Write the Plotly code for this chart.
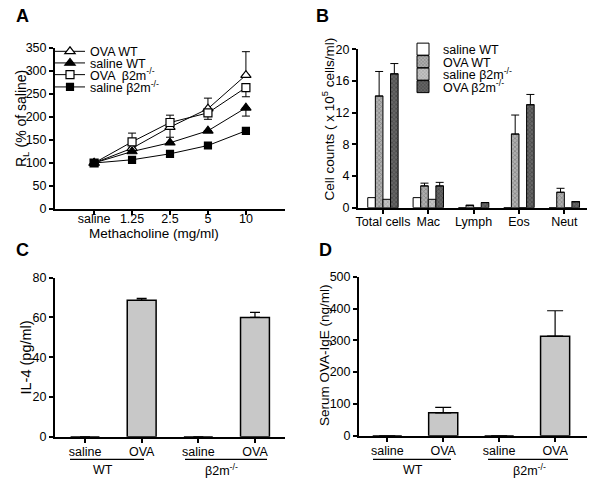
import plotly.graph_objects as go

W, H = 600, 478

# ---------------- Data ----------------
# Panel A: lung resistance vs methacholine dose
doses = ["saline", "1.25", "2.5", "5", "10"]
ova_wt = [100, 132, 178, 218, 291]
ova_wt_err_up = [0, 0, 0, 23, 51]
ova_wt_err_dn = [0, 0, 22, 0, 0]
sal_wt = [100, 125, 144, 170, 220]
sal_wt_err_up = [0, 0, 0, 0, 0]
sal_wt_err_dn = [0, 0, 0, 0, 18]
ova_b2m = [100, 146, 188, 209, 264]
ova_b2m_err_up = [0, 19, 16, 0, 0]
ova_b2m_err_dn = [0, 0, 0, 14, 20]
sal_b2m = [100, 107, 120, 138, 170]

# Panel B: BAL cell counts
cell_types = ["Total cells", "Mac", "Lymph", "Eos", "Neut"]
b_sal_wt = [1.27, 1.27, 0, 0, 0]
b_ova_wt = [14.1, 2.75, 0.3, 9.3, 1.95]
b_ova_wt_err = [3.1, 0.35, 0, 2.4, 0.5]
b_sal_b2m = [1.06, 1.06, 0, 0, 0]
b_ova_b2m = [16.9, 2.75, 0.65, 13.0, 0.76]
b_ova_b2m_err = [1.3, 0.45, 0, 1.3, 0]

# Panel C: IL-4
treat_labels = ["saline", "OVA", "saline", "OVA"]
il4 = [0, 68.7, 0, 60.0]
il4_err = [0, 0.9, 0, 2.6]

# Panel D: serum OVA-IgE
ige = [0, 72, 0, 313]
ige_err = [0, 17, 0, 80]

B2M = "β2m<sup>-/-</sup>"
FONT = "Arial, Liberation Sans, Helvetica, sans-serif"


def px(x):
    return x / W


def py(y):
    return 1 - y / H


fig = go.Figure()

# ---------------- Panel A ----------------
def a_err(up, dn):
    return dict(type="data", symmetric=False, array=up, arrayminus=dn,
                color="black", thickness=1, width=4)

a_series = [
    ("OVA WT", ova_wt, "triangle-up", "white", ova_wt_err_up, ova_wt_err_dn, 9),
    ("saline WT", sal_wt, "triangle-up", "black", sal_wt_err_up, sal_wt_err_dn, 9),
    ("OVA  " + B2M, ova_b2m, "square", "white", ova_b2m_err_up, ova_b2m_err_dn, 8),
    ("saline " + B2M, sal_b2m, "square", "black", [0] * 5, [0] * 5, 7),
]
for i, (name, vals, sym, fill, up, dn, sz) in enumerate(a_series):
    fig.add_trace(go.Scatter(
        x=doses, y=vals, name=name, mode="lines+markers",
        line=dict(color="black", width=1),
        marker=dict(symbol=sym, size=sz, color=fill, line=dict(color="black", width=1.2)),
        error_y=a_err(up, dn),
        xaxis="x", yaxis="y",
        legend="legend" if i == 0 else f"legend{i + 1}",
    ))

# ---------------- Panel B ----------------
b_series = [
    ("saline WT", b_sal_wt, None, dict(color="white")),
    ("OVA WT", b_ova_wt, b_ova_wt_err,
     dict(color="#9a9a9a", pattern=dict(shape="x", bgcolor="#b0b0b0", fgcolor="#555555", size=3, solidity=0.4))),
    ("saline " + B2M, b_sal_b2m, None,
     dict(color="#b5b5b5", pattern=dict(shape="x", bgcolor="#c4c4c4", fgcolor="#7a7a7a", size=3, solidity=0.35))),
    ("OVA " + B2M, b_ova_b2m, b_ova_b2m_err,
     dict(color="#555555", pattern=dict(shape="x", bgcolor="#666666", fgcolor="#262626", size=3, solidity=0.4))),
]
for j, (name, vals, err, mk) in enumerate(b_series):
    mk = dict(mk)
    mk["line"] = dict(color="black", width=1)
    kw = {}
    if err is not None:
        kw["error_y"] = dict(type="data", symmetric=False, array=err, arrayminus=[0] * len(err),
                             color="black", thickness=1, width=4)
    fig.add_trace(go.Bar(
        x=cell_types, y=vals, name=name, marker=mk,
        xaxis="x2", yaxis="y2", legend=f"legend{5 + j}", **kw,
    ))

# ---------------- Panel C & D ----------------
pos = list(range(len(treat_labels)))
fig.add_trace(go.Bar(
    x=pos, y=il4, width=0.51, showlegend=False,
    marker=dict(color="#c8c8c8", line=dict(color="black", width=1.5)),
    error_y=dict(type="data", symmetric=False, array=il4_err, arrayminus=[0] * 4,
                 color="black", thickness=1.2, width=5),
    xaxis="x3", yaxis="y3",
))
fig.add_trace(go.Bar(
    x=pos, y=ige, width=0.52, showlegend=False,
    marker=dict(color="#c8c8c8", line=dict(color="black", width=1.5)),
    error_y=dict(type="data", symmetric=False, array=ige_err, arrayminus=[0] * 4,
                 color="black", thickness=1.2, width=8),
    xaxis="x4", yaxis="y4",
))

# ---------------- Axes ----------------
ax = dict(showline=True, linecolor="black", linewidth=2, ticks="outside", ticklen=4,
          tickwidth=1.5, tickcolor="black", showgrid=False, zeroline=False,
          tickfont=dict(size=12.5, color="black", family=FONT), fixedrange=True,
          automargin=False)

fig.update_layout(
    xaxis=dict(ax, domain=[px(55), px(285)], type="category", range=[-1.03, 5.03], anchor="y",
               ticklabelstandoff=-7),
    yaxis=dict(ax, domain=[py(209), py(48)], range=[0, 350], dtick=50, anchor="x"),
    xaxis2=dict(ax, domain=[px(358), px(587)], type="category", range=[-0.55, 4.5], anchor="y2",
                ticklabelstandoff=-3),
    yaxis2=dict(ax, domain=[py(207.7), py(49.3)], range=[0, 20], dtick=4, anchor="x2"),
    xaxis3=dict(ax, domain=[px(55), px(285)], range=[-0.53, 3.53], tickvals=pos,
                ticktext=treat_labels, anchor="y3", ticklabelstandoff=-2),
    yaxis3=dict(ax, domain=[py(436.7), py(277.7)], range=[0, 80], dtick=20, anchor="x3"),
    xaxis4=dict(ax, domain=[px(359), px(587)], range=[-0.505, 3.57], tickvals=pos,
                ticktext=treat_labels, anchor="y4", ticklabelstandoff=-2),
    yaxis4=dict(ax, domain=[py(435.7), py(276.7)], range=[0, 500], dtick=100, anchor="x4"),
    barmode="group", bargap=0.33, bargroupgap=0,
    width=W, height=H, margin=dict(l=0, r=0, t=0, b=0, pad=0, autoexpand=False),
    paper_bgcolor="white", plot_bgcolor="white",
    font=dict(family=FONT, size=12, color="black"),
)

# Legends: one per entry so spacing matches the original
leg_base = dict(xanchor="left", yanchor="middle", bgcolor="rgba(0,0,0,0)", borderwidth=0,
                font=dict(size=12.5, family=FONT, color="black"), itemwidth=30)
a_rows = [51.7, 63.3, 75.0, 87.3]
b_rows = [49.5, 62.0, 74.5, 87.0]
legends = {}
for i, r in enumerate(a_rows):
    key = "legend" if i == 0 else f"legend{i + 1}"
    legends[key] = dict(leg_base, x=px(50), y=py(r))
for j, r in enumerate(b_rows):
    legends[f"legend{5 + j}"] = dict(leg_base, x=px(403), y=py(r))
fig.update_layout(**legends)

# ---------------- Annotations ----------------
ann = []


def text(t, x, y, size=13.5, angle=0, bold=False):
    ann.append(dict(text=f"<b>{t}</b>" if bold else t, x=px(x), y=py(y), xref="paper", yref="paper",
                    showarrow=False, xanchor="center", yanchor="middle", textangle=angle,
                    font=dict(size=size, family=FONT, color="black")))


text("A", 22.5, 16.5, size=18, bold=True)
text("B", 322, 16, size=18, bold=True)
text("C", 22, 250, size=18, bold=True)
text("D", 325, 250, size=18, bold=True)

text("R<sub>L</sub> (% of saline)", 22, 119, size=14, angle=-90)
text("Methacholine (mg/ml)", 153.5, 233, size=13.5)
text("Cell counts ( x 10<sup>5</sup> cells/ml)", 328, 119.5, angle=-90)
text("IL-4 (pg/ml)", 25, 357.5, size=14.5, angle=-90)
text("Serum OVA-IgE (ng/ml)", 324, 355, angle=-90)

text("WT", 103, 470, size=12.5)
text(B2M, 221, 470, size=12.5)
text("WT", 413, 470, size=12.5)
text(B2M, 529, 470, size=12.5)

shapes = []
for x0, x1 in [(70, 144), (185, 267), (373, 451), (488, 568)]:
    shapes.append(dict(type="line", xref="paper", yref="paper", x0=px(x0), x1=px(x1),
                       y0=py(459.3), y1=py(459.3), line=dict(color="black", width=1.2)))

fig.update_layout(annotations=ann, shapes=shapes)

fig.write_html("out.html", config={"displayModeBar": False},
               post_script="document.body.style.margin='0px';document.body.style.padding='0px';")
